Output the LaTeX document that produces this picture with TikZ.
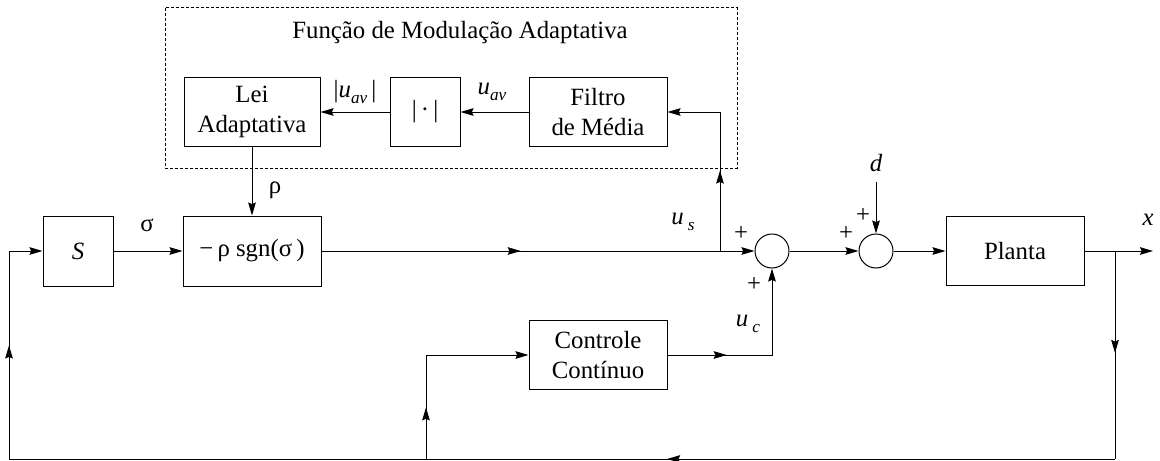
\documentclass[tikz,border=0pt]{standalone}
\usepackage{fontspec}
\setmainfont{Liberation Serif}
\usetikzlibrary{arrows.meta, decorations.markings}
\tikzstyle{bloco} = [rectangle, draw=black, line width=0.5pt, minimum width=69pt, minimum height=34.5pt, text centered, align=center, inner sep=0pt]
\tikzstyle{quad} = [rectangle, draw=black, line width=0.5pt, minimum width=35pt, minimum height=35pt, text centered, inner sep=0pt]
\tikzstyle{soma} = [circle, draw=black, line width=0.5pt, minimum size=17pt, inner sep=0pt]
\tikzstyle{seta} = [line width=0.5pt, -{Stealth[length=6.5pt,width=3.8pt,inset=0.8pt]}]
\tikzstyle{linha} = [line width=0.5pt]
\tikzstyle{rotulo} = [inner sep=0pt]
\tikzset{meio/.style={postaction={decorate}, decoration={markings, mark=at position #1 with {\arrow{Stealth[length=6.5pt,width=3.8pt,inset=0.8pt]}}}}}
\newcommand{\sub}[1]{\raisebox{-3.2pt}{\fontsize{8.6}{10}\selectfont\textit{#1}}}

\begin{document}
\begin{tikzpicture}[x=0.5pt, y=-0.5pt, font=\fontsize{12.4}{15}\selectfont]
\useasboundingbox (0,0) rectangle (1160,460);

\draw [line width=0.5pt, dash pattern=on 1.5pt off 1pt] (165,8) rectangle (737,168);
\node (titulo) [rotulo] at (460,33) {Função de Modulação Adaptativa};

\node (lei) [bloco, minimum width=68pt] at (252,112) {Lei\\Adaptativa};
\node (abs) [quad, minimum height=34.5pt] at (425,112) {|\,·\,|};
\node (filtro) [bloco] at (598,112) {Filtro\\de Média};

\node (s) [quad] at (78,251) {\textit{S}};
\node (sgn) [bloco, minimum height=35pt] at (252,251) {−\,ρ sgn(σ\,)};
\node (soma1) [soma] at (772,251) {};
\node (soma2) [soma] at (876,251) {};
\node (planta) [bloco] at (1015,251) {Planta};
\node (controle) [bloco] at (598,355) {Controle\\Contínuo};

\coordinate (us) at (720,251);
\coordinate (xout) at (1115,251);
\coordinate (xfim) at (1153,251);
\coordinate (dent) at (876,182);
\coordinate (fb1) at (1115,459);
\coordinate (fb2) at (426,459);
\coordinate (fb3) at (9,459);

\node (lbabs) [rotulo] at (355,92) {|\textit{u}\sub{av}\,|};
\node (lbuav) [rotulo] at (492,92) {\textit{u}\sub{av}};
\node (lbrho) [rotulo] at (275,190) {ρ};
\node (lbsigma) [rotulo] at (147,225) {σ};
\node (lbus) [rotulo] at (683,222) {\textit{u}\,\sub{s}};
\node (lbuc) [rotulo] at (748,324) {\textit{u}\,\sub{c}};
\node (lbd) [rotulo] at (876,163) {\textit{d}};
\node (lbx) [rotulo] at (1148,220) {\textit{x}};
\node (mais1) [rotulo] at (741,233) {+};
\node (mais2) [rotulo] at (754,284) {+};
\node (mais3) [rotulo] at (846,233) {+};
\node (mais4) [rotulo] at (863,215) {+};

\draw [seta] (filtro) -- (abs);
\draw [seta] (abs) -- (lei);
\draw [seta] (lei) -- (sgn);
\draw [seta] (s) -- (sgn);
\draw [linha, meio=0.5] (sgn) -- (us);
\draw [seta] (us) -- (soma1);
\draw [seta, meio=0.42] (us) |- (filtro);
\draw [seta] (soma1) -- (soma2);
\draw [seta] (soma2) -- (planta);
\draw [seta] (planta) -- (xfim);
\draw [seta] (dent) -- (soma2);

\draw [linha, meio=0.49] (xout) -- (fb1);
\draw [linha, meio=0.65] (fb1) -- (fb2);
\draw [linha] (fb2) -- (fb3);
\draw [seta, meio=0.47] (fb3) |- (s);
\draw [seta, meio=0.25] (fb2) |- (controle);
\draw [seta, meio=0.31] (controle) -| (soma1);

\end{tikzpicture}
\end{document}
